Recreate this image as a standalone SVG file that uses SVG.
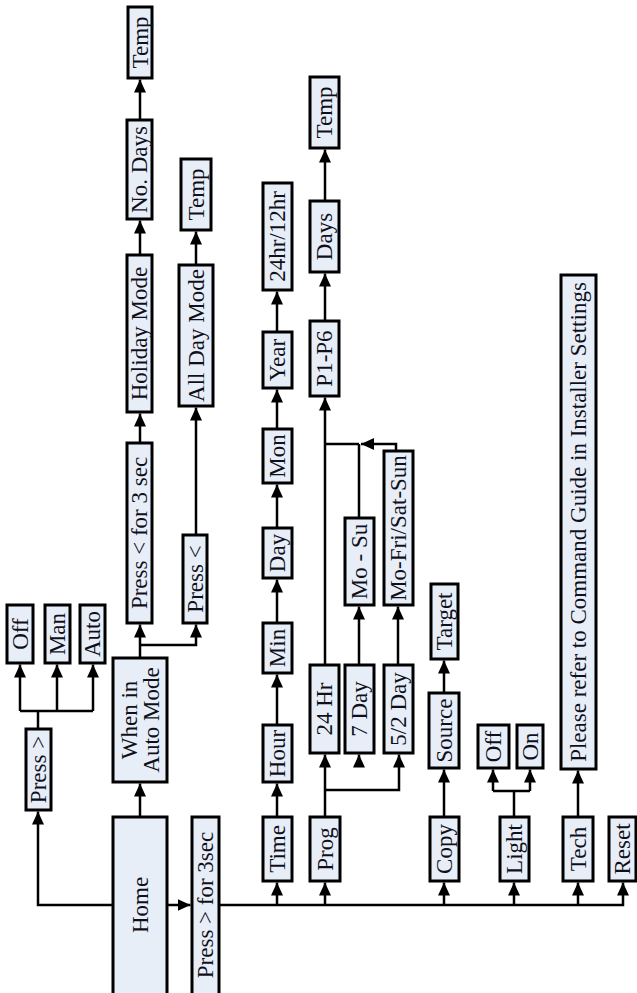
<svg xmlns="http://www.w3.org/2000/svg" width="637" height="993" viewBox="0 0 637 993">
<defs>
<style>
.b{fill:#e8eef8;stroke:#000;stroke-width:3}
.t{font-family:"Liberation Serif","Times New Roman",serif;font-size:23px;fill:#10101a;text-anchor:middle;dominant-baseline:central}
.l{fill:none;stroke:#000;stroke-width:2.5}
.a{fill:none;stroke:#000;stroke-width:2.5;marker-end:url(#ah)}
</style>
<marker id="ah" markerUnits="userSpaceOnUse" markerWidth="13" markerHeight="12" refX="13" refY="6" orient="auto" viewBox="0 0 13 12">
<path d="M0,0 L13,6 L0,12 z" fill="#000"/>
</marker>
</defs>
<rect width="637" height="993" fill="#fff"/>

<g id="connectors">
<path class="a" d="M167,905 H190.5"/>
<path class="a" d="M113,905 H38 V811.5"/>
<path class="l" d="M38,729 V711"/>
<path class="l" d="M20,711 H93"/>
<path class="a" d="M20,711 V664.5"/>
<path class="a" d="M57,711 V664.5"/>
<path class="a" d="M93,711 V664.5"/>
<path class="a" d="M140,817 V783.5"/>
<path class="a" d="M140,658 V624.5"/>
<path class="a" d="M140,645 H196 V624.5"/>
<path class="a" d="M140,443 V413.5"/>
<path class="a" d="M140,255 V220.5"/>
<path class="a" d="M140,120 V79.5"/>
<path class="a" d="M196,535 V407.5"/>
<path class="a" d="M196,265 V231.5"/>
<path class="a" d="M219,905 H623 V882.5"/>
<path class="a" d="M277,905 V882.5"/>
<path class="a" d="M325,905 V882.5"/>
<path class="a" d="M444,905 V882.5"/>
<path class="a" d="M514,905 V882.5"/>
<path class="a" d="M578,905 V882.5"/>
<path class="a" d="M277,817 V783.5"/>
<path class="a" d="M277,725 V674.5"/>
<path class="a" d="M277,623 V579.5"/>
<path class="a" d="M277,528 V484.5"/>
<path class="a" d="M277,429 V389.5"/>
<path class="a" d="M277,332 V291.5"/>
<path class="a" d="M325,817 V754.5"/>
<path class="a" d="M325,790 H399 V754.5"/>
<path class="a" d="M359,767 V754.5"/>
<path class="a" d="M325,665 V397.5"/>
<path class="l" d="M325,444 H359"/>
<path class="l" d="M359,518 V444"/>
<path class="a" d="M396,451 V444 H361"/>
<path class="a" d="M359,665 V606.5"/>
<path class="a" d="M398,665 V606.5"/>
<path class="a" d="M325,321 V273.5"/>
<path class="a" d="M325,201 V149.5"/>
<path class="a" d="M444,817 V769.5"/>
<path class="a" d="M444,693 V660.5"/>
<path class="l" d="M514,817 V791"/>
<path class="l" d="M493,791 H530"/>
<path class="a" d="M493,791 V769.5"/>
<path class="a" d="M530,791 V769.5"/>
<path class="a" d="M578,817 V770.5"/>
</g>

<g id="home"><rect class="b" x="113" y="817" width="54" height="180"/><text class="t" transform="translate(140,905) rotate(-90)">Home</text></g>
<g id="press3sec"><rect class="b" x="192" y="817" width="27" height="180"/><text class="t" transform="translate(205.5,905) rotate(-90)">Press &gt; for 3sec</text></g>
<g id="pressgt"><rect class="b" x="26" y="729" width="25" height="81"/><text class="t" transform="translate(38.5,769.5) rotate(-90)">Press &gt;</text></g>
<g id="off1"><rect class="b" x="7" y="605" width="26" height="58"/><text class="t" transform="translate(20,634) rotate(-90)">Off</text></g>
<g id="man"><rect class="b" x="45" y="605" width="25" height="58"/><text class="t" transform="translate(57.5,634) rotate(-90)">Man</text></g>
<g id="auto"><rect class="b" x="80" y="605" width="25" height="58"/><text class="t" transform="translate(92.5,634) rotate(-90)">Auto</text></g>
<g id="automode"><rect class="b" x="113" y="658" width="54" height="124"/><text class="t" transform="translate(140,720) rotate(-90)"><tspan x="0" y="-11">When in</tspan><tspan x="0" y="11">Auto Mode</tspan></text></g>
<g id="presslt3"><rect class="b" x="127" y="443" width="25" height="180"/><text class="t" transform="translate(139.5,533) rotate(-90)">Press &lt; for 3 sec</text></g>
<g id="holiday"><rect class="b" x="127" y="255" width="25" height="157"/><text class="t" transform="translate(139.5,333.5) rotate(-90)">Holiday Mode</text></g>
<g id="nodays"><rect class="b" x="127" y="120" width="25" height="99"/><text class="t" transform="translate(139.5,169.5) rotate(-90)">No. Days</text></g>
<g id="temp1"><rect class="b" x="128" y="7" width="24" height="71"/><text class="t" transform="translate(140,42.5) rotate(-90)">Temp</text></g>
<g id="presslt"><rect class="b" x="183" y="535" width="24" height="88"/><text class="t" transform="translate(195,579) rotate(-90)">Press &lt;</text></g>
<g id="allday"><rect class="b" x="179" y="265" width="34" height="141"/><text class="t" transform="translate(196,335.5) rotate(-90)">All Day Mode</text></g>
<g id="temp2"><rect class="b" x="181" y="159" width="30" height="71"/><text class="t" transform="translate(196,194.5) rotate(-90)">Temp</text></g>
<g id="time"><rect class="b" x="263" y="817" width="29" height="64"/><text class="t" transform="translate(277.5,849) rotate(-90)">Time</text></g>
<g id="hour"><rect class="b" x="263" y="725" width="29" height="57"/><text class="t" transform="translate(277.5,753.5) rotate(-90)">Hour</text></g>
<g id="min"><rect class="b" x="263" y="623" width="29" height="50"/><text class="t" transform="translate(277.5,648) rotate(-90)">Min</text></g>
<g id="day"><rect class="b" x="263" y="528" width="29" height="50"/><text class="t" transform="translate(277.5,553) rotate(-90)">Day</text></g>
<g id="mon"><rect class="b" x="263" y="429" width="29" height="54"/><text class="t" transform="translate(277.5,456) rotate(-90)">Mon</text></g>
<g id="year"><rect class="b" x="263" y="332" width="29" height="56"/><text class="t" transform="translate(277.5,360) rotate(-90)">Year</text></g>
<g id="hr2412"><rect class="b" x="263" y="183" width="29" height="107"/><text class="t" transform="translate(277.5,236.5) rotate(-90)">24hr/12hr</text></g>
<g id="prog"><rect class="b" x="310" y="817" width="30" height="64"/><text class="t" transform="translate(325,849) rotate(-90)">Prog</text></g>
<g id="hr24"><rect class="b" x="310" y="665" width="29" height="88"/><text class="t" transform="translate(324.5,709) rotate(-90)">24 Hr</text></g>
<g id="day7"><rect class="b" x="345" y="665" width="29" height="88"/><text class="t" transform="translate(359.5,709) rotate(-90)">7 Day</text></g>
<g id="day52"><rect class="b" x="384" y="665" width="29" height="88"/><text class="t" transform="translate(398.5,709) rotate(-90)">5/2 Day</text></g>
<g id="mosu"><rect class="b" x="345" y="518" width="29" height="87"/><text class="t" transform="translate(359.5,561.5) rotate(-90)">Mo - Su</text></g>
<g id="mofri"><rect class="b" x="384" y="451" width="29" height="154"/><text class="t" transform="translate(398.5,528) rotate(-90)">Mo-Fri/Sat-Sun</text></g>
<g id="p1p6"><rect class="b" x="310" y="321" width="29" height="75"/><text class="t" transform="translate(324.5,358.5) rotate(-90)">P1-P6</text></g>
<g id="days"><rect class="b" x="310" y="201" width="29" height="71"/><text class="t" transform="translate(324.5,236.5) rotate(-90)">Days</text></g>
<g id="temp3"><rect class="b" x="310" y="77" width="29" height="71"/><text class="t" transform="translate(324.5,112.5) rotate(-90)">Temp</text></g>
<g id="copy"><rect class="b" x="430" y="817" width="29" height="64"/><text class="t" transform="translate(444.5,849) rotate(-90)">Copy</text></g>
<g id="source"><rect class="b" x="429" y="693" width="30" height="75"/><text class="t" transform="translate(444,730.5) rotate(-90)">Source</text></g>
<g id="target"><rect class="b" x="431" y="584" width="27" height="75"/><text class="t" transform="translate(444.5,621.5) rotate(-90)">Target</text></g>
<g id="light"><rect class="b" x="500" y="817" width="29" height="64"/><text class="t" transform="translate(514.5,849) rotate(-90)">Light</text></g>
<g id="off2"><rect class="b" x="478" y="725" width="31" height="43"/><text class="t" transform="translate(493.5,746.5) rotate(-90)">Off</text></g>
<g id="on"><rect class="b" x="517" y="725" width="26" height="43"/><text class="t" transform="translate(530,746.5) rotate(-90)">On</text></g>
<g id="tech"><rect class="b" x="563" y="817" width="30" height="64"/><text class="t" transform="translate(578,849) rotate(-90)">Tech</text></g>
<g id="please"><rect class="b" x="561" y="275" width="35" height="494"/><text class="t" transform="translate(578.5,522) rotate(-90)">Please refer to Command Guide in Installer Settings</text></g>
<g id="reset"><rect class="b" x="609" y="817" width="27" height="64"/><text class="t" transform="translate(622.5,849) rotate(-90)">Reset</text></g>
</svg>
